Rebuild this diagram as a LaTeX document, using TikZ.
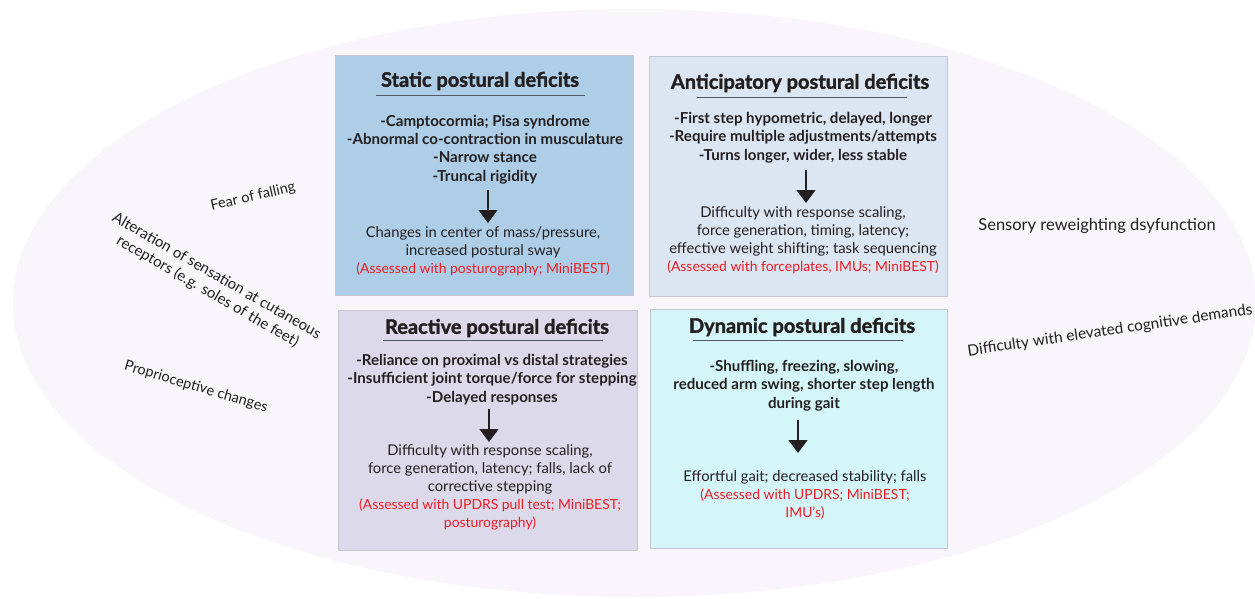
\documentclass[tikz,border=0pt]{standalone}
\usepackage{fontspec}
\setmainfont{Lato}
\newfontfamily\heavyfont{Lato}[BoldFeatures={FakeBold=1.6}]
\usetikzlibrary{arrows.meta}
\definecolor{ellfill}{RGB}{248,246,250}
\definecolor{boxA}{RGB}{174,205,230}
\definecolor{boxB}{RGB}{220,230,242}
\definecolor{boxC}{RGB}{220,218,234}
\definecolor{boxD}{RGB}{213,246,249}
\definecolor{boxline}{RGB}{200,198,212}
\definecolor{txt}{RGB}{35,31,32}
\definecolor{redtxt}{RGB}{237,28,36}
\definecolor{ulc}{RGB}{80,90,105}
\tikzset{
  panel/.style={draw=boxline, line width=0.8pt},
  ttl/.style={font=\heavyfont\bfseries\fontsize{20}{24}\selectfont, text=txt, inner sep=0pt},
  lst/.style={font=\bfseries\fontsize{15.1}{18.3}\selectfont, text=txt, align=center, inner sep=0pt},
  res/.style={font=\fontsize{14.8}{18.1}\selectfont, text=txt, align=center, inner sep=0pt},
  side/.style={font=\fontsize{14.5}{18}\selectfont, text=txt, align=center, inner sep=0pt},
  uline/.style={draw=ulc, line width=0.9pt},
  downarrow/.style={draw=txt, line width=1.4pt, -{Triangle[width=19pt,length=13pt]}},
}
\newcommand{\rd}[1]{{\fontsize{13.9}{18.1}\selectfont\textcolor{redtxt}{#1}}}
\begin{document}
\begin{tikzpicture}[x=1pt,y=-1pt]
\useasboundingbox (0,0) rectangle (1255,599);
\fill[white] (0,0) rectangle (1255,599);
\fill[ellfill] (634.5,303) ellipse [x radius=621.5, y radius=294];

% panels
\path[panel, fill=boxA] (335,55) rectangle (633,295);
\path[panel, fill=boxB] (649,56) rectangle (947,296);
\path[panel, fill=boxC] (338,310) rectangle (637,550);
\path[panel, fill=boxD] (650,309) rectangle (947,548);

% Static
\node[ttl] (t1) at (480,81) {Static postural deficits};
\draw[uline] (376,95) -- (585,95);
\node[lst] (l1) at (485,149.5) {-Camptocormia; Pisa syndrome\\-Abnormal co-contraction in musculature\\-Narrow stance\\-Truncal rigidity};
\coordinate (a1s) at (488,190);
\coordinate (a1e) at (488,223);
\draw[downarrow] (a1s) -- (a1e);
\node[res] (r1) at (483,251) {Changes in center of mass/pressure,\\increased postural sway\\\rd{(Assessed with posturography; MiniBEST)}};

% Anticipatory
\node[ttl] (t2) at (800,83) {Anticipatory postural deficits};
\draw[uline] (697,97) -- (907,97);
\node[lst] (l2) at (803,137.5) {-First step hypometric, delayed, longer\\-Require multiple adjustments/attempts\\-Turns longer, wider, less stable};
\coordinate (a2s) at (806,170);
\coordinate (a2e) at (806,203);
\draw[downarrow] (a2s) -- (a2e);
\node[res] (r2) at (803,240.5) {Difficulty with response scaling,\\force generation, timing, latency;\\effective weight shifting; task sequencing\\\rd{(Assessed with forceplates, IMUs; MiniBEST)}};

% Reactive
\node[ttl] (t3) at (497,328) {Reactive postural deficits};
\draw[uline] (383,340) -- (603,340);
\node[lst] (l3) at (492,379.5) {-Reliance on proximal vs distal strategies\\-Insufficient joint torque/force for stepping\\-Delayed responses};
\coordinate (a3s) at (489,409);
\coordinate (a3e) at (489,442);
\draw[downarrow] (a3s) -- (a3e);
\node[res] (r3) at (490,487.5) {Difficulty with response scaling,\\force generation, latency; falls, lack of\\corrective stepping\\\rd{(Assessed with UPDRS pull test; MiniBEST;}\\\rd{posturography)}};

% Dynamic
\node[ttl] (t4) at (802,327) {Dynamic postural deficits};
\draw[uline] (693,340) -- (903,340);
\node[lst] (l4) at (804,385.5) {-Shuffling, freezing, slowing,\\reduced arm swing, shorter step length\\during gait};
\coordinate (a4s) at (798,420);
\coordinate (a4e) at (798,453);
\draw[downarrow] (a4s) -- (a4e);
\node[res] (r4) at (805,495) {Effortful gait; decreased stability; falls\\\rd{(Assessed with UPDRS; MiniBEST;}\\\rd{IMU's)}};

% side labels
\node[side, rotate=13] (s1) at (253,197) {Fear of falling};
\node[side, font=\fontsize{15}{18}\selectfont, rotate=-30] (s2) at (212,284) {Alteration of sensation at cutaneous\\receptors (e.g. soles of the feet)};
\node[side, rotate=-16.5] (s3) at (196,387) {Proprioceptive changes};
\node[side, font=\fontsize{16.5}{20}\selectfont] (s4) at (1097,226) {Sensory reweighting dsyfunction};
\node[side, font=\fontsize{15.4}{18}\selectfont, rotate=8.4] (s5) at (1110,331) {Difficulty with elevated cognitive demands};
\end{tikzpicture}
\end{document}
